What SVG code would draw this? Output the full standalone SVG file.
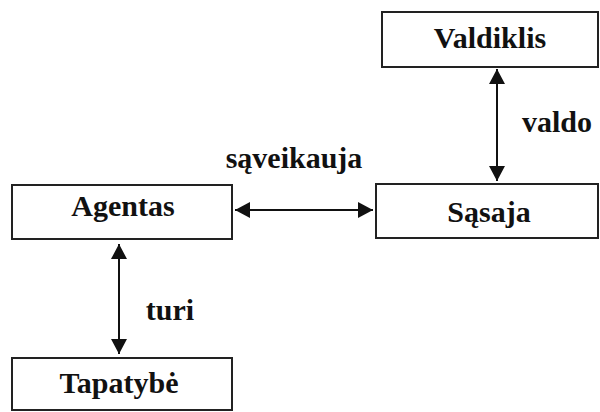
<svg xmlns="http://www.w3.org/2000/svg" width="600" height="412" viewBox="0 0 600 412">
  <defs>
    <style>
      .box { fill: #ffffff; stroke: #222222; stroke-width: 2; }
      .lbl { font-family: "Liberation Serif", "Times New Roman", serif; font-weight: bold; font-size: 30px; fill: #111111; text-anchor: middle; }
      .edge { fill: none; stroke: #111111; stroke-width: 2; marker-start: url(#head); marker-end: url(#head); }
    </style>
    <marker id="head" viewBox="0 0 15 16" refX="15" refY="8" markerWidth="15" markerHeight="16" markerUnits="userSpaceOnUse" orient="auto-start-reverse">
      <path d="M0,0 L15,8 L0,16 Z" fill="#111111"/>
    </marker>
  </defs>
  <rect width="600" height="412" fill="#ffffff"/>

  <g id="connectors">
    <!-- Valdiklis to Sąsaja -->
    <line class="edge" x1="497" y1="69" x2="497" y2="181"/>
    <!-- Agentas to Sąsaja -->
    <line class="edge" x1="235" y1="210" x2="373" y2="210"/>
    <!-- Agentas to Tapatybė -->
    <line class="edge" x1="119" y1="244" x2="119" y2="354"/>
    <text class="lbl" x="557" y="132">valdo</text>
    <text class="lbl" x="294" y="168">sąveikauja</text>
    <text class="lbl" x="170" y="320">turi</text>
  </g>

  <g id="valdiklis">
    <rect class="box" x="382" y="12" width="216" height="55"/>
    <text class="lbl" x="490" y="48">Valdiklis</text>
  </g>

  <g id="sasaja">
    <rect class="box" x="376" y="184" width="222" height="54"/>
    <text class="lbl" x="489" y="222">Sąsaja</text>
  </g>

  <g id="agentas">
    <rect class="box" x="12" y="185" width="220" height="54"/>
    <text class="lbl" x="123" y="216">Agentas</text>
  </g>

  <g id="tapatybe">
    <rect class="box" x="12" y="358" width="220" height="52"/>
    <text class="lbl" x="119" y="393">Tapatybė</text>
  </g>
</svg>
